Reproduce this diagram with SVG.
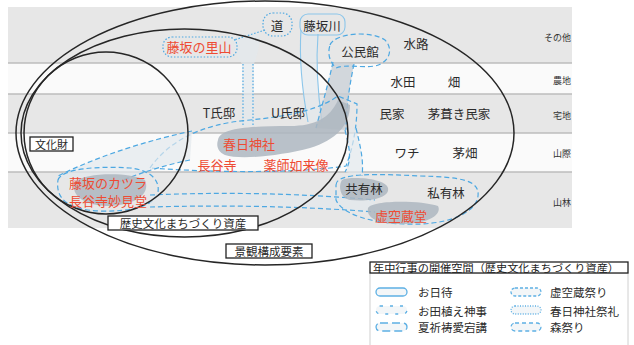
<svg xmlns="http://www.w3.org/2000/svg" width="634" height="345" viewBox="0 0 634 345">
<defs>
<style>
.bg{fill:#e7e7e7}
.bw{fill:#fafafa}
.sep{stroke:#bdbdbd;stroke-width:1.3}
.t{font-family:"Noto Sans CJK JP","Noto Sans",sans-serif;font-size:12.5px;fill:#2b2b2b;dominant-baseline:central;text-anchor:middle}
.r{fill:#ee4b33;font-size:13px}
.cat{font-size:9px;text-anchor:end;fill:#333}
.lg{font-size:11.5px;text-anchor:start}
.lt{font-size:10.5px;text-anchor:start;fill:#222}
.ell{fill:none;stroke:#262626;stroke-width:1.5}
.box{fill:#fff;stroke:#222;stroke-width:1.3}
.dk{fill:#adb6c0;fill-opacity:.85}
.md{fill:#c8ced5;fill-opacity:.8}
.lt2{fill:#e3e8ed;fill-opacity:.7}
.da{stroke:#4da8e2;stroke-width:1.2;stroke-dasharray:5 3;fill:none}
.dt{stroke:#4da8e2;stroke-width:1.2;stroke-dasharray:1.5 1.8;fill:none}
.so{stroke:#8cc6ea;stroke-width:1.1;fill:none}
.ic{fill:#f3f6f8;stroke:#5eb0e4;stroke-width:1.3}
</style>
</defs>

<!-- bands -->
<g id="bands">
<rect x="8" y="7" width="564" height="56" class="bg"/>
<rect x="8" y="63" width="564" height="31" class="bw"/>
<rect x="8" y="94" width="564" height="39" class="bg"/>
<rect x="8" y="133" width="564" height="39" class="bw"/>
<rect x="8" y="172" width="564" height="56" class="bg"/>
<line x1="8" y1="63" x2="572" y2="63" class="sep"/>
<line x1="8" y1="94" x2="572" y2="94" class="sep"/>
<line x1="8" y1="133" x2="572" y2="133" class="sep"/>
<line x1="8" y1="172" x2="572" y2="172" class="sep"/>
<text x="571" y="37" class="t cat">その他</text>
<text x="571" y="80" class="t cat">農地</text>
<text x="571" y="115" class="t cat">宅地</text>
<text x="571" y="153" class="t cat">山際</text>
<text x="571" y="202" class="t cat">山林</text>
</g>

<!-- event spaces -->
<g id="spaces">
<path d="M233,38 L258,31 C262,42 257,55 254,64 L254,126 L243,126 L242,64 C238,58 234,50 233,38 Z" class="lt2"/>
<path d="M243,64 L243,126 M253,64 L253,126" class="dt"/>
<rect x="163" y="37" width="74" height="20" rx="9" class="dt" fill="#f4f4f4"/>
<path d="M265,30 L234,40" class="dt"/>
<rect x="263" y="13" width="29" height="23" rx="10" class="md dt"/>
<path d="M301,30 C299,60 303,95 308,122 L322,122 C318,95 316,60 318,34 Z" class="lt2"/>
<path d="M301,30 C299,60 303,95 308,122 M318,34 C316,60 318,95 322,122" class="so"/>
<rect x="300" y="14" width="45" height="21" rx="8" fill="#eef0f2" class="so"/>
<path d="M333,62 C328,85 322,105 316,128 L346,130 C346,110 349,88 354,64 Z" class="md"/>
<path d="M333,62 C328,85 322,105 316,128 M354,64 C349,88 346,110 346,130" class="da"/>
<path d="M330,45 C335,33 370,30 385,40 C393,48 391,62 375,66 C360,68 345,64 336,68 C328,60 328,52 330,45 Z" class="md da"/>
<path d="M150,168 C168,142 200,124 250,120 C290,116 318,110 338,96 L357,104 C357,130 352,150 346,166 C300,173 220,173 150,168 Z" class="lt2 da"/>
<path d="M218,140 C220,128 250,126 290,126 C315,126 330,118 338,100 L350,105 C350,125 336,140 310,148 C280,156 240,160 225,155 C218,152 216,146 218,140 Z" class="dk"/>
<path d="M192,131 C150,140 100,155 58,176 L100,190 C130,176 160,166 190,160 Z" class="lt2"/>
<path d="M192,131 C150,140 100,155 58,176 M190,160 C160,166 130,176 100,190" class="da"/>
<path d="M58,180 C62,168 100,166 130,168 C150,170 160,180 158,192 C156,206 130,212 100,211 C70,210 55,200 58,180 Z" class="md da"/>
<path d="M75,182 C85,172 130,172 145,180 C150,192 140,204 110,206 C85,206 70,196 75,182 Z" class="dk"/>
<path d="M150,195 C220,192 300,193 375,200 L375,212 C300,206 220,205 150,207 Z" class="lt2"/>
<path d="M150,195 C220,192 300,193 375,200 M150,207 C220,205 300,206 375,212" class="da"/>
<path d="M345,130 C350,150 352,160 345,172 L362,176 C364,160 360,145 356,128 Z" class="lt2"/>
<path d="M345,130 C350,150 352,160 345,172 M356,128 C360,145 364,160 362,176" class="da"/>
<path d="M336,185 C336,172 380,174 420,176 C460,177 480,180 478,196 C476,214 445,226 405,224 C370,223 342,214 336,200 Z" class="md da"/>
<path d="M342,180 C350,176 385,178 388,188 C390,198 370,202 350,200 C340,198 338,186 342,180 Z" class="dk"/>
<path d="M368,208 C372,200 420,200 438,206 C442,214 430,224 400,224 C378,224 366,218 368,208 Z" class="dk"/>
</g>

<!-- ellipses -->
<g id="ellipse-keikan"><ellipse cx="265" cy="133" rx="249" ry="132" class="ell"/></g>
<g id="ellipse-rekishi"><ellipse cx="184.5" cy="133" rx="163.5" ry="104" class="ell"/></g>
<g id="ellipse-bunka"><ellipse cx="106" cy="133" rx="82" ry="81" class="ell"/></g>

<!-- labels -->
<g id="n-michi"><text x="277" y="25" class="t">道</text></g>
<g id="n-fujisakagawa"><text x="322" y="25" class="t">藤坂川</text></g>
<g id="n-satoyama"><text x="199" y="46" class="t r">藤坂の里山</text></g>
<g id="n-kominkan"><text x="360" y="51" class="t">公民館</text></g>
<g id="n-suiro"><text x="416" y="43" class="t">水路</text></g>
<g id="n-suiden"><text x="403" y="81" class="t">水田</text></g>
<g id="n-hata"><text x="454" y="81" class="t">畑</text></g>
<g id="n-t"><text x="219" y="112" class="t">T氏邸</text></g>
<g id="n-u"><text x="288" y="112" class="t">U氏邸</text></g>
<g id="n-minka"><text x="392" y="113" class="t">民家</text></g>
<g id="n-kayabuki"><text x="459" y="113" class="t">茅葺き民家</text></g>
<g id="n-kasuga"><text x="249" y="143" class="t r">春日神社</text></g>
<g id="n-hasedera"><text x="217" y="164" class="t r">長谷寺</text></g>
<g id="n-yakushi"><text x="296" y="164" class="t r">薬師如来像</text></g>
<g id="n-wachi"><text x="407" y="152" class="t">ワチ</text></g>
<g id="n-kayahata"><text x="465" y="152" class="t">茅畑</text></g>
<g id="n-katsura"><text x="108" y="182" class="t r">藤坂のカツラ</text></g>
<g id="n-myokendo"><text x="108" y="200" class="t r">長谷寺妙見堂</text></g>
<g id="n-kyoyurin"><text x="364" y="188" class="t">共有林</text></g>
<g id="n-shiyurin"><text x="446" y="192" class="t">私有林</text></g>
<g id="n-kokuzodo"><text x="401" y="215" class="t r">虚空蔵堂</text></g>

<g id="b-bunka"><rect x="30" y="137" width="43" height="14" class="box"/><text x="51.5" y="144" class="t" style="font-size:11px">文化財</text></g>
<g id="b-rekishi"><rect x="108" y="216" width="150" height="14" class="box"/><text x="183" y="223" class="t" style="font-size:11.5px">歴史文化まちづくり資産</text></g>
<g id="b-keikan"><rect x="226" y="244" width="86" height="14" class="box"/><text x="269" y="251" class="t" style="font-size:11.5px">景観構成要素</text></g>

<!-- legend -->
<g id="legend">
<rect x="370" y="273" width="258" height="74" fill="#fff" stroke="#d0d0d0" stroke-width="1"/>
<rect x="370" y="262" width="258" height="11" class="box"/>
<text x="373" y="267.5" class="t lt" textLength="246" lengthAdjust="spacingAndGlyphs">年中行事の開催空間（歴史文化まちづくり資産）</text>
<rect x="376" y="288" width="31" height="8" rx="4" class="ic" stroke="#9fd0ee"/>
<text x="418" y="292" class="t lg">お日待</text>
<rect x="376" y="306" width="31" height="8" rx="4" class="ic" stroke-dasharray="3 7"/>
<text x="418" y="311" class="t lg">お田植え神事</text>
<rect x="376" y="323" width="31" height="8" rx="4" class="ic" stroke-dasharray="8 4"/>
<text x="418" y="327" class="t lg">夏祈祷愛宕講</text>
<rect x="511" y="288" width="30" height="8" rx="4" class="ic" stroke-dasharray="3 2"/>
<text x="550" y="292" class="t lg">虚空蔵祭り</text>
<rect x="511" y="306" width="30" height="8" rx="4" class="ic" stroke-dasharray="1 1.5"/>
<text x="550" y="311" class="t lg">春日神社祭礼</text>
<rect x="511" y="323" width="30" height="8" rx="4" class="ic" stroke-dasharray="4 3"/>
<text x="550" y="327" class="t lg">森祭り</text>
</g>
</svg>
